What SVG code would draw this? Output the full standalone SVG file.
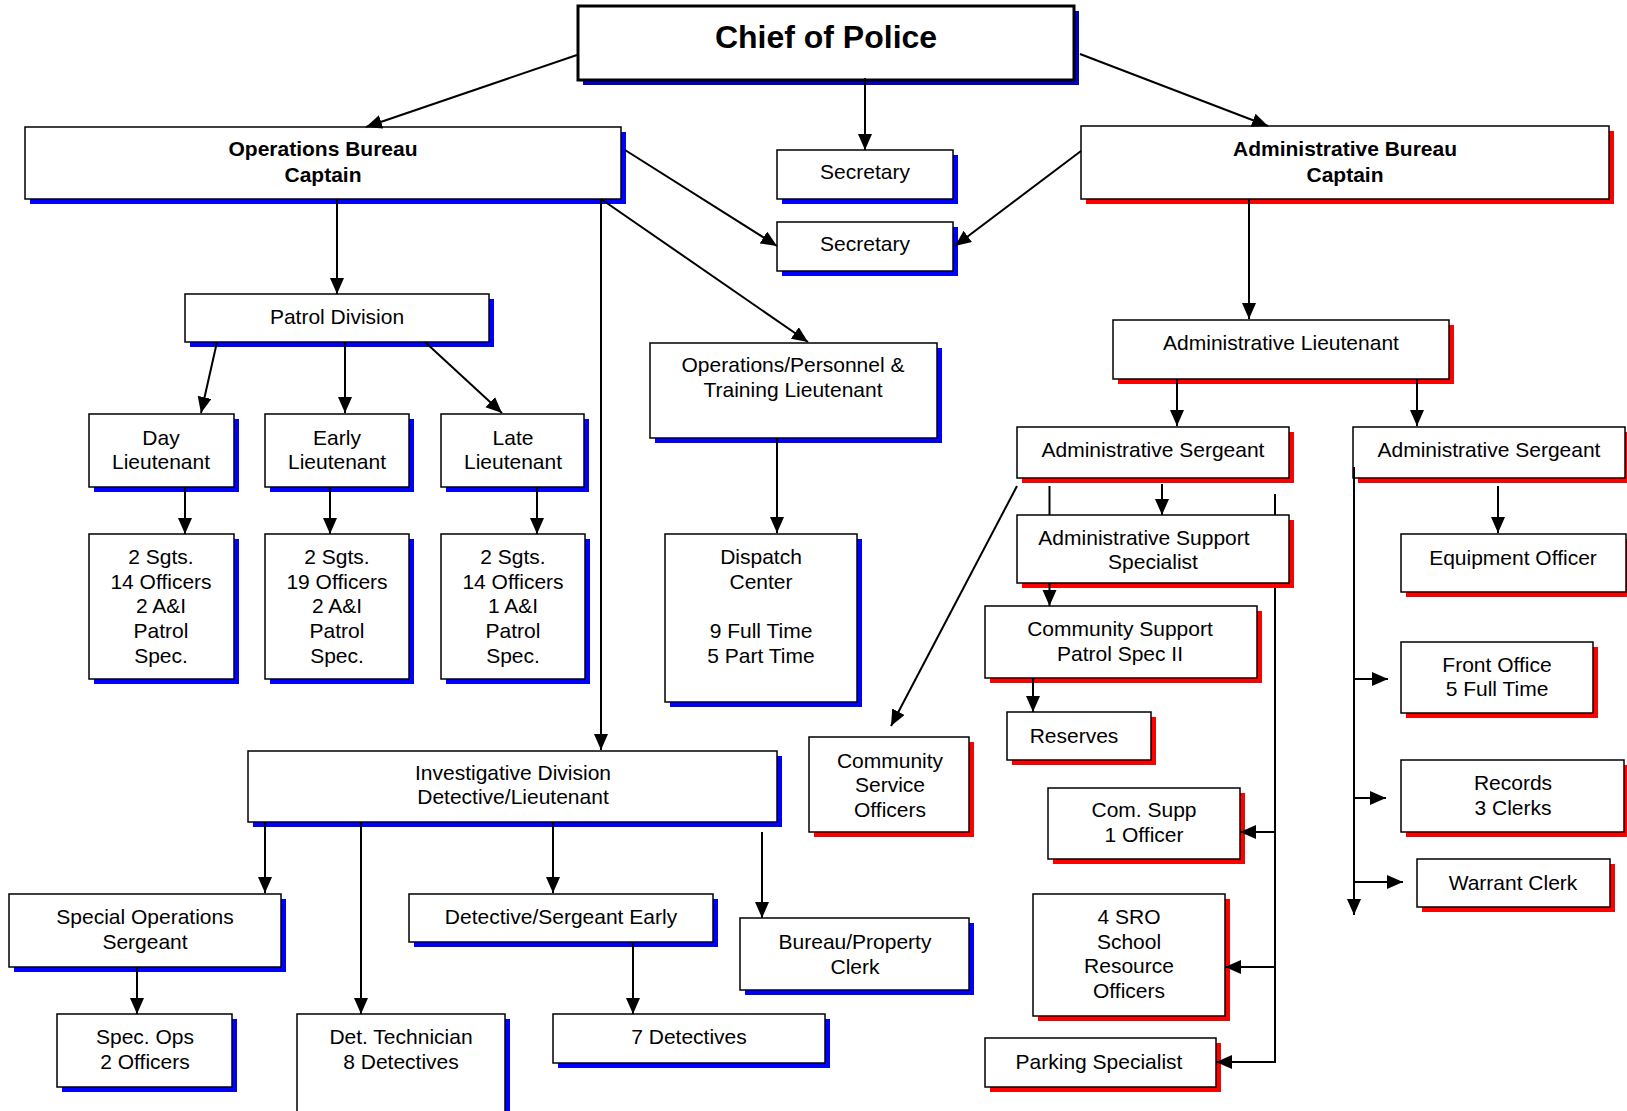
<svg xmlns="http://www.w3.org/2000/svg" width="1627" height="1111" viewBox="0 0 1627 1111">
<defs>
<marker id="ah" markerUnits="userSpaceOnUse" markerWidth="17" markerHeight="15" refX="16" refY="7" orient="auto">
<path d="M0,0 L16,7 L0,14 z" fill="#000"/>
</marker>
<style>
.b{fill:#fff;stroke:#000;stroke-width:1.5}
.sb{fill:#0000ff}
.sr{fill:#ff0000}
text{font-family:"Liberation Sans",Arial,sans-serif;font-size:21px;text-anchor:middle;fill:#000}
.bold{font-weight:bold}
.c{fill:none;stroke:#000;stroke-width:2}
.a{fill:none;stroke:#000;stroke-width:2;marker-end:url(#ah)}
</style>
</defs>
<rect width="1627" height="1111" fill="#fff"/>

<g id="chief">
<rect x="583" y="11" width="496" height="74" fill="#0000c0"/>
<rect x="578" y="6" width="496" height="74" fill="#fff" stroke="#000" stroke-width="3"/>
<text x="826" y="48" class="bold" style="font-size:32px">Chief of Police</text>
</g>
<g id="ops-bureau">
<rect class="sb" x="30" y="132" width="596" height="72"/>
<rect class="b" x="25" y="127" width="596" height="72"/>
<text x="323" y="156" class="bold">Operations Bureau</text>
<text x="323" y="182" class="bold">Captain</text>
</g>
<g id="secretary1">
<rect class="sb" x="782" y="155" width="176" height="49"/>
<rect class="b" x="777" y="150" width="176" height="49"/>
<text x="865" y="179">Secretary</text>
</g>
<g id="secretary2">
<rect class="sb" x="782" y="227" width="176" height="49"/>
<rect class="b" x="777" y="222" width="176" height="49"/>
<text x="865" y="251">Secretary</text>
</g>
<g id="admin-bureau">
<rect class="sr" x="1086" y="131" width="528" height="73"/>
<rect class="b" x="1081" y="126" width="528" height="73"/>
<text x="1345" y="156" class="bold">Administrative Bureau</text>
<text x="1345" y="182" class="bold">Captain</text>
</g>
<g id="patrol-division">
<rect class="sb" x="190" y="299" width="304" height="48"/>
<rect class="b" x="185" y="294" width="304" height="48"/>
<text x="337" y="324">Patrol Division</text>
</g>
<g id="admin-lieutenant">
<rect class="sr" x="1118" y="325" width="336" height="59"/>
<rect class="b" x="1113" y="320" width="336" height="59"/>
<text x="1281" y="350">Administrative Lieutenant</text>
</g>
<g id="ops-personnel">
<rect class="sb" x="655" y="348" width="287" height="95"/>
<rect class="b" x="650" y="343" width="287" height="95"/>
<text x="793" y="372">Operations/Personnel &amp;</text>
<text x="793" y="397">Training Lieutenant</text>
</g>
<g id="day-lt">
<rect class="sb" x="94" y="419" width="145" height="73"/>
<rect class="b" x="89" y="414" width="145" height="73"/>
<text x="161" y="445">Day</text>
<text x="161" y="469">Lieutenant</text>
</g>
<g id="early-lt">
<rect class="sb" x="270" y="419" width="144" height="73"/>
<rect class="b" x="265" y="414" width="144" height="73"/>
<text x="337" y="445">Early</text>
<text x="337" y="469">Lieutenant</text>
</g>
<g id="late-lt">
<rect class="sb" x="446" y="419" width="143" height="73"/>
<rect class="b" x="441" y="414" width="143" height="73"/>
<text x="513" y="445">Late</text>
<text x="513" y="469">Lieutenant</text>
</g>
<g id="day-staff">
<rect class="sb" x="94" y="539" width="145" height="145"/>
<rect class="b" x="89" y="534" width="145" height="145"/>
<text x="161" y="564">2 Sgts.</text>
<text x="161" y="589">14 Officers</text>
<text x="161" y="613">2 A&amp;I</text>
<text x="161" y="638">Patrol</text>
<text x="161" y="663">Spec.</text>
</g>
<g id="early-staff">
<rect class="sb" x="270" y="539" width="144" height="145"/>
<rect class="b" x="265" y="534" width="144" height="145"/>
<text x="337" y="564">2 Sgts.</text>
<text x="337" y="589">19 Officers</text>
<text x="337" y="613">2 A&amp;I</text>
<text x="337" y="638">Patrol</text>
<text x="337" y="663">Spec.</text>
</g>
<g id="late-staff">
<rect class="sb" x="446" y="539" width="144" height="145"/>
<rect class="b" x="441" y="534" width="144" height="145"/>
<text x="513" y="564">2 Sgts.</text>
<text x="513" y="589">14 Officers</text>
<text x="513" y="613">1 A&amp;I</text>
<text x="513" y="638">Patrol</text>
<text x="513" y="663">Spec.</text>
</g>
<g id="dispatch">
<rect class="sb" x="670" y="539" width="192" height="168"/>
<rect class="b" x="665" y="534" width="192" height="168"/>
<text x="761" y="564">Dispatch</text>
<text x="761" y="589">Center</text>
<text x="761" y="638">9 Full Time</text>
<text x="761" y="663">5 Part Time</text>
</g>
<g id="investigative">
<rect class="sb" x="253" y="756" width="529" height="71"/>
<rect class="b" x="248" y="751" width="529" height="71"/>
<text x="513" y="780">Investigative Division</text>
<text x="513" y="804">Detective/Lieutenant</text>
</g>
<g id="spec-ops-sgt">
<rect class="sb" x="14" y="899" width="272" height="73"/>
<rect class="b" x="9" y="894" width="272" height="73"/>
<text x="145" y="924">Special Operations</text>
<text x="145" y="949">Sergeant</text>
</g>
<g id="spec-ops">
<rect class="sb" x="62" y="1019" width="175" height="73"/>
<rect class="b" x="57" y="1014" width="175" height="73"/>
<text x="145" y="1044">Spec. Ops</text>
<text x="145" y="1069">2 Officers</text>
</g>
<g id="det-tech">
<rect class="sb" x="302" y="1019" width="208" height="120"/>
<rect class="b" x="297" y="1014" width="208" height="120"/>
<text x="401" y="1044">Det. Technician</text>
<text x="401" y="1069">8 Detectives</text>
</g>
<g id="det-sgt">
<rect class="sb" x="414" y="899" width="304" height="48"/>
<rect class="b" x="409" y="894" width="304" height="48"/>
<text x="561" y="924">Detective/Sergeant Early</text>
</g>
<g id="seven-det">
<rect class="sb" x="558" y="1019" width="272" height="49"/>
<rect class="b" x="553" y="1014" width="272" height="49"/>
<text x="689" y="1044">7 Detectives</text>
</g>
<g id="bureau-property">
<rect class="sb" x="745" y="923" width="229" height="72"/>
<rect class="b" x="740" y="918" width="229" height="72"/>
<text x="855" y="949">Bureau/Property</text>
<text x="855" y="974">Clerk</text>
</g>
<g id="cso">
<rect class="sr" x="814" y="742" width="160" height="95"/>
<rect class="b" x="809" y="737" width="160" height="95"/>
<text x="890" y="768">Community</text>
<text x="890" y="792">Service</text>
<text x="890" y="817">Officers</text>
</g>
<g id="admin-sgt1">
<rect class="sr" x="1022" y="432" width="272" height="51"/>
<rect class="b" x="1017" y="427" width="272" height="51"/>
<text x="1153" y="457">Administrative Sergeant</text>
</g>
<g id="admin-sgt2">
<rect class="sr" x="1358" y="432" width="272" height="51"/>
<rect class="b" x="1353" y="427" width="272" height="51"/>
<text x="1489" y="457">Administrative Sergeant</text>
</g>
<g id="admin-support">
<rect class="sr" x="1022" y="520" width="272" height="68"/>
<rect class="b" x="1017" y="515" width="272" height="68"/>
<text x="1144" y="545">Administrative Support</text>
<text x="1153" y="569">Specialist</text>
</g>
<g id="community-support">
<rect class="sr" x="990" y="611" width="272" height="72"/>
<rect class="b" x="985" y="606" width="272" height="72"/>
<text x="1120" y="636">Community Support</text>
<text x="1120" y="661">Patrol Spec II</text>
</g>
<g id="reserves">
<rect class="sr" x="1012" y="717" width="144" height="48"/>
<rect class="b" x="1007" y="712" width="144" height="48"/>
<text x="1074" y="743">Reserves</text>
</g>
<g id="com-supp">
<rect class="sr" x="1053" y="793" width="192" height="71"/>
<rect class="b" x="1048" y="788" width="192" height="71"/>
<text x="1144" y="817">Com. Supp</text>
<text x="1144" y="842">1 Officer</text>
</g>
<g id="sro">
<rect class="sr" x="1038" y="899" width="192" height="122"/>
<rect class="b" x="1033" y="894" width="192" height="122"/>
<text x="1129" y="924">4 SRO</text>
<text x="1129" y="949">School</text>
<text x="1129" y="973">Resource</text>
<text x="1129" y="998">Officers</text>
</g>
<g id="parking">
<rect class="sr" x="990" y="1043" width="231" height="49"/>
<rect class="b" x="985" y="1038" width="231" height="49"/>
<text x="1099" y="1069">Parking Specialist</text>
</g>
<g id="equipment">
<rect class="sr" x="1406" y="539" width="225" height="58"/>
<rect class="b" x="1401" y="534" width="225" height="58"/>
<text x="1513" y="565">Equipment Officer</text>
</g>
<g id="front-office">
<rect class="sr" x="1406" y="647" width="192" height="71"/>
<rect class="b" x="1401" y="642" width="192" height="71"/>
<text x="1497" y="672">Front Office</text>
<text x="1497" y="696">5 Full Time</text>
</g>
<g id="records">
<rect class="sr" x="1406" y="765" width="223" height="72"/>
<rect class="b" x="1401" y="760" width="223" height="72"/>
<text x="1513" y="790">Records</text>
<text x="1513" y="815">3 Clerks</text>
</g>
<g id="warrant">
<rect class="sr" x="1422" y="864" width="193" height="48"/>
<rect class="b" x="1417" y="859" width="193" height="48"/>
<text x="1513" y="890">Warrant Clerk</text>
</g>

<g id="connectors">
<path class="a" d="M577,55 L366,127"/>
<path class="a" d="M865,78 L865,150"/>
<path class="a" d="M1080,54 L1268,126"/>
<path class="a" d="M1081,151 L955,246"/>
<path class="a" d="M625,150 L777,246"/>
<path class="a" d="M601,199 L808,342"/>
<path class="a" d="M601,199 L601,750"/>
<path class="a" d="M337,199 L337,294"/>
<path class="a" d="M1249,199 L1249,319"/>
<path class="a" d="M217,342 L201,413"/>
<path class="a" d="M345,342 L345,413"/>
<path class="a" d="M425,342 L502,413"/>
<path class="a" d="M185,487 L185,534"/>
<path class="a" d="M330,487 L330,534"/>
<path class="a" d="M537,487 L537,534"/>
<path class="a" d="M777,438 L777,533"/>
<path class="a" d="M265,822 L265,893"/>
<path class="a" d="M361,822 L361,1014"/>
<path class="a" d="M553,822 L553,893"/>
<path class="a" d="M762,832 L762,918"/>
<path class="a" d="M137,967 L137,1014"/>
<path class="a" d="M633,942 L633,1014"/>
<path class="a" d="M1177,379 L1177,426"/>
<path class="a" d="M1417,379 L1417,426"/>
<path class="a" d="M1017,486 L891,726"/>
<path class="c" d="M1049.5,486 L1049.5,515"/>
<path class="a" d="M1162,484 L1162,515"/>
<path class="c" d="M1275,494 L1275,515"/>
<path class="c" d="M1275,588 L1275,1063"/>
<path class="a" d="M1049.5,583 L1049.5,606"/>
<path class="a" d="M1033,678 L1033,712"/>
<path class="a" d="M1275,832 L1240,832"/>
<path class="a" d="M1275,967 L1225,967"/>
<path class="a" d="M1275,1062 L1216,1062"/>
<path class="a" d="M1354,467 L1354,915"/>
<path class="a" d="M1498,486 L1498,533"/>
<path class="a" d="M1354,679 L1388,679"/>
<path class="a" d="M1354,798 L1386,798"/>
<path class="a" d="M1354,882 L1403,882"/>
</g>
</svg>
